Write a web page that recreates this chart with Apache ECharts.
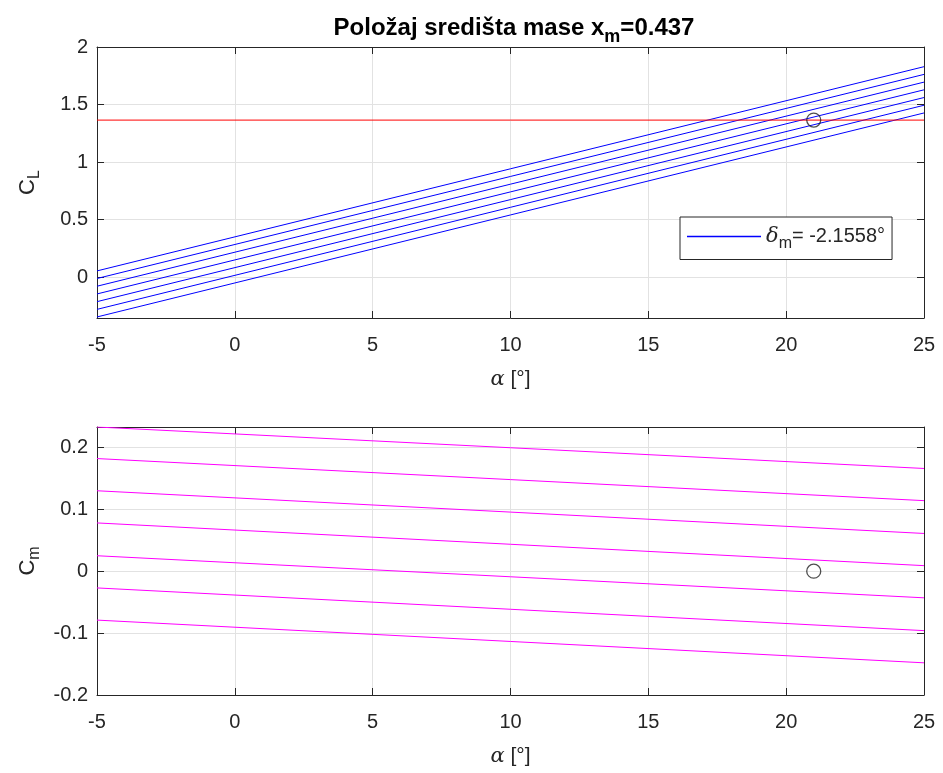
<!DOCTYPE html>
<html><head><meta charset="utf-8">
<script src="https://cdn.jsdelivr.net/npm/echarts@6/dist/echarts.min.js"></script>
<style>html,body{margin:0;padding:0;background:#fff}#c{width:943px;height:773px}</style>
</head><body><div id="c"></div>
<script>
// ---- data ----
const alphaRange = [-5, 25];
// C_L lines (7 elevator deflections): value at alpha=-5 and alpha=25
const clStart = [0.055, -0.011, -0.078, -0.145, -0.212, -0.279, -0.345];
const clEnd   = [1.829, 1.762, 1.695, 1.628, 1.561, 1.494, 1.427];
// C_m lines: value at alpha=-5 and alpha=25
const cmStart = [0.233, 0.182, 0.130, 0.078, 0.025, -0.027, -0.079];
const cmEnd   = [0.166, 0.114, 0.061, 0.009, -0.043, -0.096, -0.148];
// trim
const trimCL = 1.365;
const trimAlpha = 21;
const trimCm = 0;
const legendName = 'δm= -2.1558°';
const xTicks = [-5, 0, 5, 10, 15, 20, 25];
const clTicks = [0, 0.5, 1, 1.5, 2];
const cmTicks = [-0.2, -0.1, 0, 0.1, 0.2];
const clRange = [-0.354, 2];
const cmRange = [-0.2, 0.233];

const TXT = '#262626';
const FONT = 'Liberation Sans, Arial, Helvetica, sans-serif';
const GRIDC = '#e2e2e2';
const TFS = 20;

function xAxisMain(gridIndex) {
  return {
    type: 'value', gridIndex, min: alphaRange[0], max: alphaRange[1], interval: 5,
    position: 'bottom',
    axisLine: { show: true, onZero: false, lineStyle: { color: TXT, width: 1 } },
    axisTick: { show: true, inside: true, length: 7, lineStyle: { color: TXT } },
    axisLabel: { color: TXT, fontSize: TFS, fontFamily: FONT, margin: 17 },
    splitLine: { show: true, lineStyle: { color: GRIDC, width: 1 } },
    name: '{a|α} [°]', nameLocation: 'middle', nameGap: 51,
    nameTextStyle: { color: TXT, fontSize: 21, fontFamily: FONT,
      rich: { a: { fontStyle: 'italic', fontFamily: 'DejaVu Serif, serif', fontSize: 21, color: TXT } } }
  };
}
function xAxisMirror(gridIndex) {
  return {
    type: 'value', gridIndex, min: alphaRange[0], max: alphaRange[1], interval: 5,
    position: 'top',
    axisLine: { show: true, onZero: false, lineStyle: { color: TXT, width: 1 } },
    axisTick: { show: true, inside: true, length: 7, lineStyle: { color: TXT } },
    axisLabel: { show: false }, splitLine: { show: false }
  };
}
function yAxisMain(gridIndex, range, ticks, name) {
  return {
    type: 'value', gridIndex, min: range[0], max: range[1], position: 'left',
    axisLine: { show: true, onZero: false, lineStyle: { color: TXT, width: 1 } },
    axisTick: { show: true, inside: true, length: 7, lineStyle: { color: TXT }, customValues: ticks },
    axisLabel: { color: TXT, fontSize: TFS, fontFamily: FONT, margin: 9, customValues: ticks,
      formatter: v => String(+v.toFixed(3)) },
    splitLine: { show: true, lineStyle: { color: GRIDC, width: 1 } },
    name: name, nameLocation: 'middle', nameRotate: 90, nameGap: 54,
    nameTextStyle: { color: TXT, fontSize: 22, fontFamily: FONT,
      rich: { s: { fontSize: 16, color: TXT, fontFamily: FONT, padding: [14, 0, 0, 0] } } }
  };
}
function yAxisMirror(gridIndex, range, ticks) {
  return {
    type: 'value', gridIndex, min: range[0], max: range[1], position: 'right',
    axisLine: { show: true, onZero: false, lineStyle: { color: TXT, width: 1 } },
    axisTick: { show: true, inside: true, length: 7, lineStyle: { color: TXT }, customValues: ticks },
    axisLabel: { show: false, customValues: ticks }, splitLine: { show: false }
  };
}

const series = [];
clStart.forEach((v, i) => {
  series.push({
    type: 'line', name: i === 0 ? legendName : 'cl' + i, xAxisIndex: 0, yAxisIndex: 0,
    data: [[alphaRange[0], v], [alphaRange[1], clEnd[i]]],
    symbol: 'none', lineStyle: { color: '#0000ff', width: 1 }, itemStyle: { color: '#0000ff' },
    silent: true, animation: false, z: 3
  });
});
series.push({
  type: 'line', name: 'trim', xAxisIndex: 0, yAxisIndex: 0,
  data: [[alphaRange[0], trimCL], [alphaRange[1], trimCL]],
  symbol: 'none', lineStyle: { color: '#ff0000', width: 1 }, animation: false, z: 4
});
series.push({
  type: 'scatter', name: 'pt1', xAxisIndex: 0, yAxisIndex: 0,
  data: [[trimAlpha, trimCL]], symbol: 'circle', symbolSize: 14,
  itemStyle: { color: 'rgba(0,0,0,0)', borderColor: '#222', borderWidth: 1.3 }, animation: false, z: 5
});
cmStart.forEach((v, i) => {
  series.push({
    type: 'line', name: 'cm' + i, xAxisIndex: 2, yAxisIndex: 2,
    data: [[alphaRange[0], v], [alphaRange[1], cmEnd[i]]],
    symbol: 'none', lineStyle: { color: '#ff00ff', width: 1 },
    silent: true, animation: false, z: 3
  });
});
series.push({
  type: 'scatter', name: 'pt2', xAxisIndex: 2, yAxisIndex: 2,
  data: [[trimAlpha, trimCm]], symbol: 'circle', symbolSize: 14,
  itemStyle: { color: 'rgba(0,0,0,0)', borderColor: '#222', borderWidth: 1.3 }, animation: false, z: 5
});

const chart = echarts.init(document.getElementById('c'), null, { renderer: 'canvas' });
chart.setOption({
  backgroundColor: '#ffffff',
  animation: false,
  title: {
    text: 'Položaj središta mase x{s|m}=0.437', left: 509, top: 6, textAlign: 'center',
    textStyle: { fontSize: 24, fontWeight: 'bold', color: '#000', fontFamily: FONT,
      rich: { s: { fontSize: 18, fontWeight: 'bold', color: '#000', fontFamily: FONT, padding: [17, 0, 0, 0] } } }
  },
  legend: {
    data: [{ name: legendName, icon: 'rect' }], left: 680, top: 217, orient: 'vertical',
    backgroundColor: '#fff', borderColor: TXT, borderWidth: 1, padding: [9, 7, 8, 7],
    itemWidth: 74, itemHeight: 1.5, itemGap: 0,
    formatter: () => '{d|δ}{s|m}{n|= -2.1558°}',
    textStyle: { color: TXT, fontSize: 20, fontFamily: FONT,
      rich: {
        d: { fontStyle: 'italic', fontFamily: 'DejaVu Serif, serif', fontSize: 21, color: TXT },
        s: { fontSize: 16, color: TXT, fontFamily: FONT, padding: [14, 0, 0, 0] },
        n: { fontSize: 20, color: TXT, fontFamily: FONT }
      } }
  },
  grid: [
    { left: 97, top: 47, width: 827, height: 271, show: false },
    { left: 97, top: 427, width: 827, height: 268, show: false }
  ],
  xAxis: [xAxisMain(0), xAxisMirror(0), xAxisMain(1), xAxisMirror(1)],
  yAxis: [
    yAxisMain(0, clRange, clTicks, 'C{s|L}'), yAxisMirror(0, clRange, clTicks),
    yAxisMain(1, cmRange, cmTicks, 'C{s|m}'), yAxisMirror(1, cmRange, cmTicks)
  ],
  series: series
});
</script></body></html>
